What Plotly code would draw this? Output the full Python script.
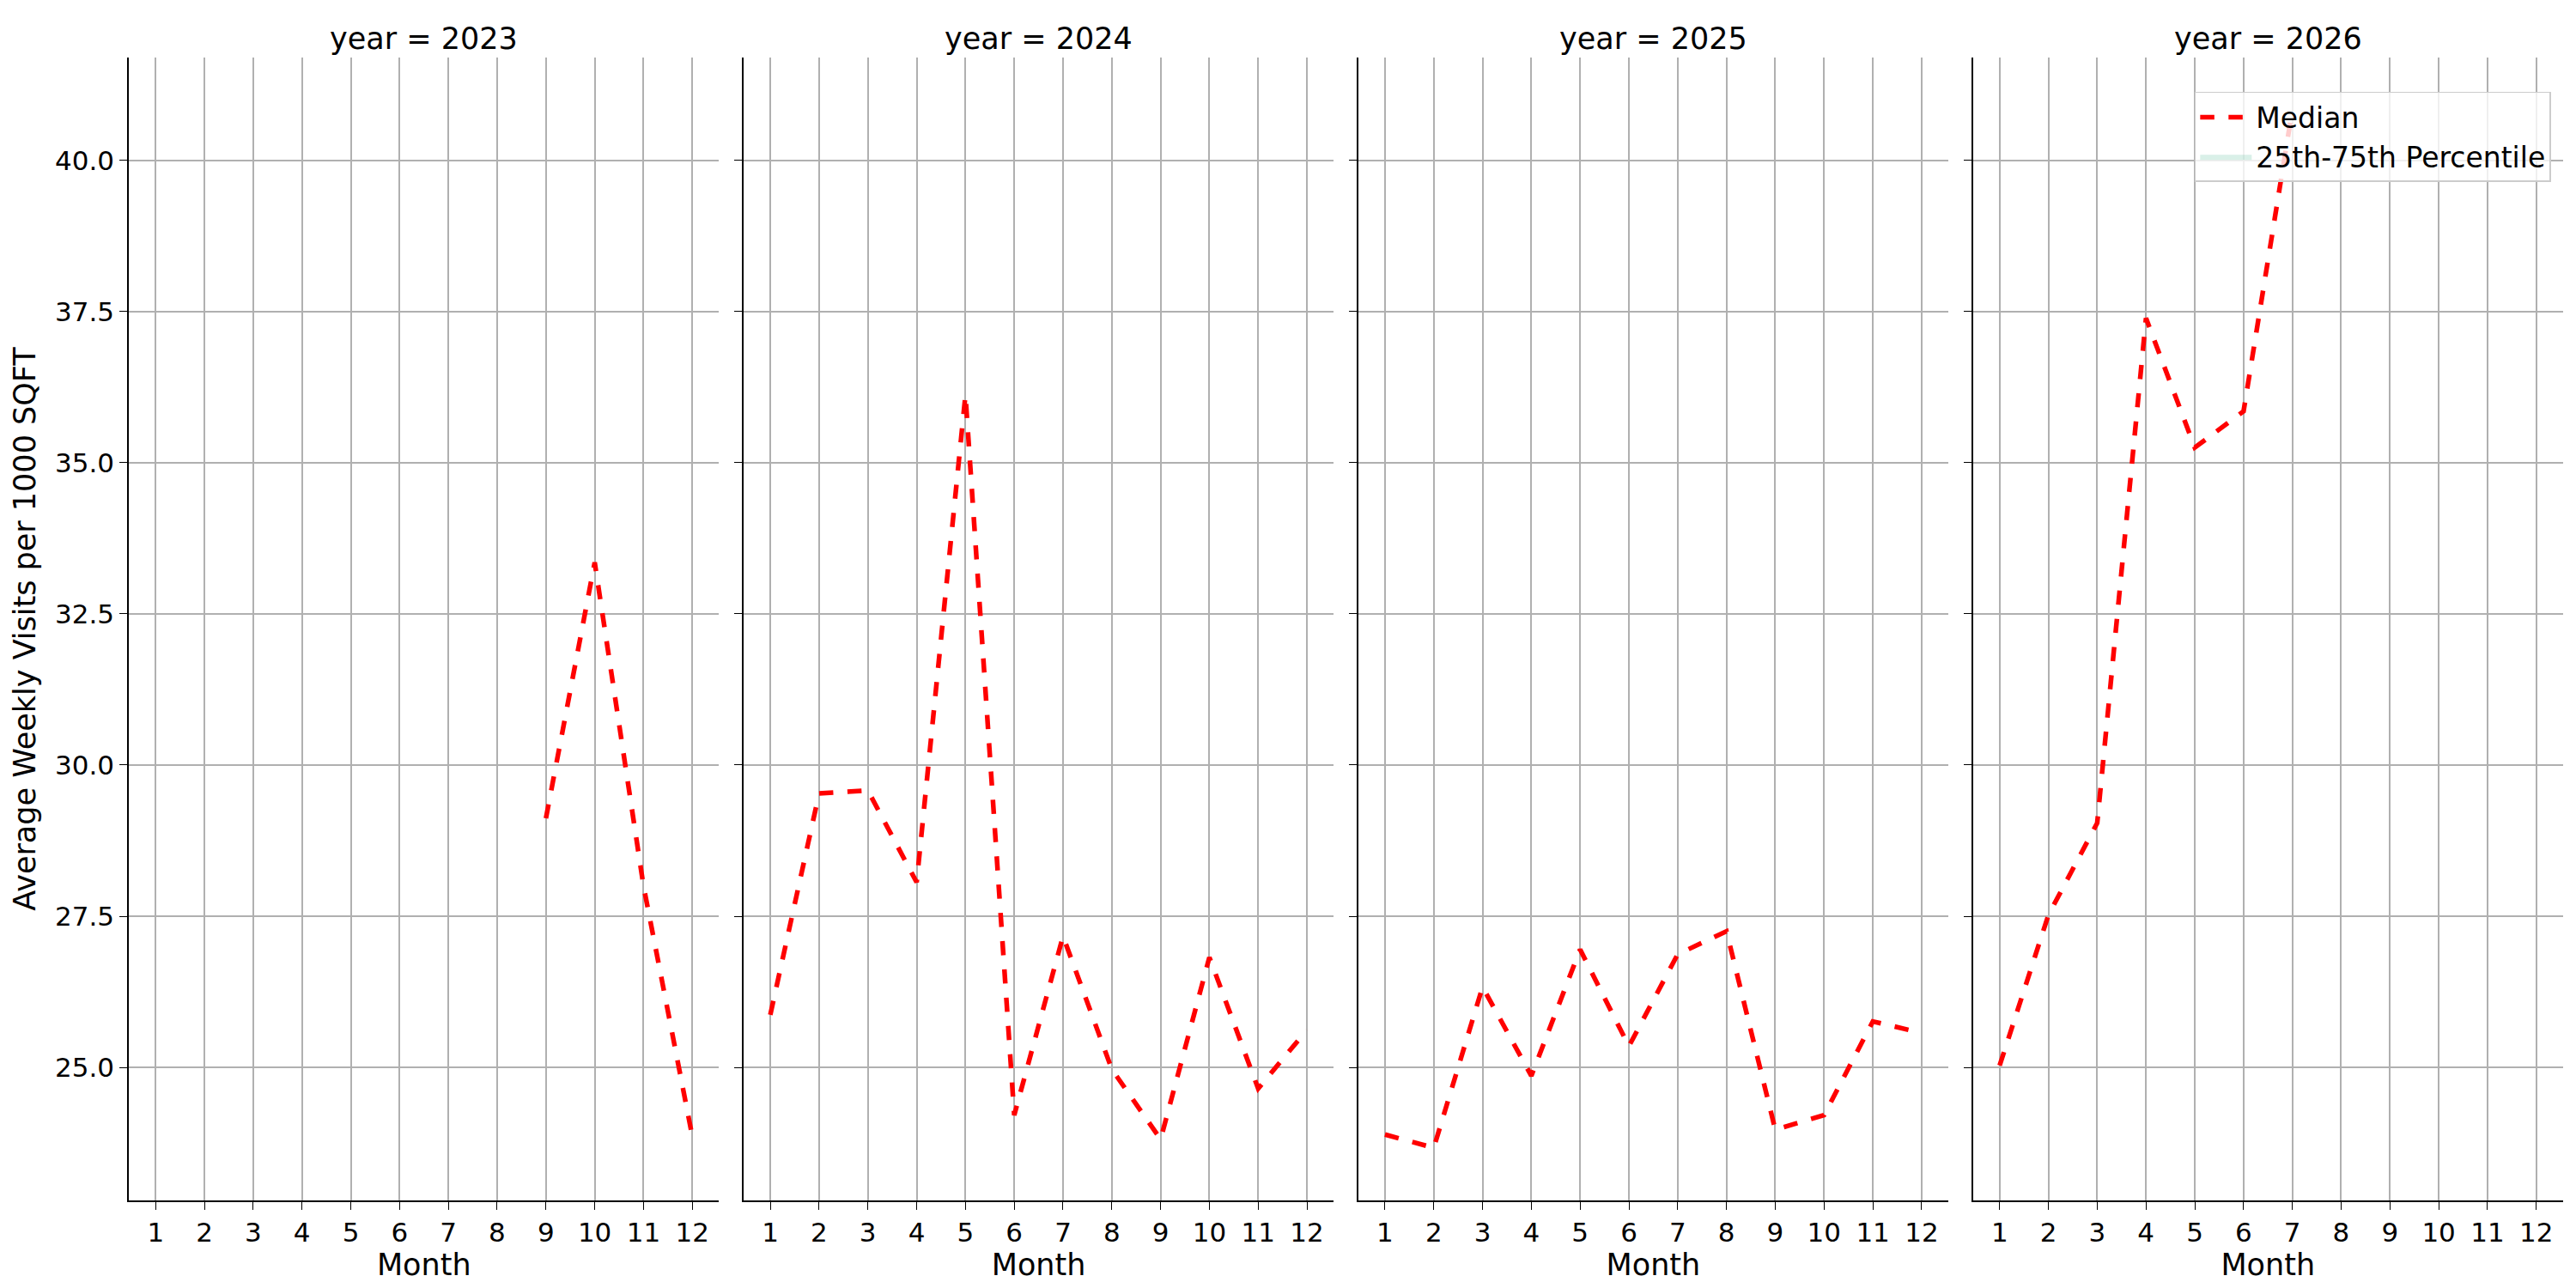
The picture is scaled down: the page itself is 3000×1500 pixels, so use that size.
import plotly.graph_objects as go
from plotly.subplots import make_subplots

years = [2023, 2024, 2025, 2026]
months = {
    2023: [9, 10, 11, 12],
    2024: list(range(1, 13)),
    2025: list(range(1, 13)),
    2026: [1, 2, 3, 4, 5, 6, 7],
}
median = {
    2023: [29.12, 33.35, 28.0, 23.86],
    2024: [25.87, 29.53, 29.58, 28.06, 36.12, 24.21, 27.17, 24.97, 23.81, 26.82, 24.65, 25.62],
    2025: [23.89, 23.67, 26.33, 24.86, 26.95, 25.35, 26.87, 27.25, 23.97, 24.21, 25.76, 25.57],
    2026: [25.03, 27.52, 29.04, 37.39, 35.25, 35.85, 40.84],
}
yticks = [25.0, 27.5, 30.0, 32.5, 35.0, 37.5, 40.0]

fig = make_subplots(rows=1, cols=4, shared_yaxes=True, horizontal_spacing=0.01,
                    subplot_titles=[f"year = {y}" for y in years])
for i, y in enumerate(years):
    fig.add_trace(go.Scatter(x=months[y], y=median[y], mode="lines",
                             line=dict(color="red", width=5.5, dash="dash"),
                             name="Median", showlegend=(i == 3)), row=1, col=i + 1)
fig.add_trace(go.Scatter(x=[None], y=[None], mode="lines", fill="toself",
                         fillcolor="rgba(102,194,165,0.25)", line=dict(width=0),
                         name="25th-75th Percentile"), row=1, col=4)

font = dict(family="DejaVu Sans", size=31, color="black")
tfont = dict(family="DejaVu Sans", size=35, color="black")
for i in range(4):
    fig.update_xaxes(row=1, col=i + 1, range=[0.45, 12.55], tickvals=list(range(1, 13)),
                     showgrid=True, gridcolor="#b0b0b0", gridwidth=1.5,
                     showline=True, linecolor="black", linewidth=1.5,
                     ticks="outside", ticklen=9, tickcolor="black",
                     title=dict(text="Month", font=tfont, standoff=8),
                     tickfont=font, zeroline=False)
    fig.update_yaxes(row=1, col=i + 1, range=[22.8, 41.7], tickvals=yticks,
                     ticktext=[f"{v:.1f}" for v in yticks],
                     showgrid=True, gridcolor="#b0b0b0", gridwidth=1.5,
                     showline=True, linecolor="black", linewidth=1.5,
                     ticks="outside", ticklen=9, tickcolor="black",
                     showticklabels=(i == 0), tickfont=font, zeroline=False)
fig.update_yaxes(row=1, col=1, title=dict(text="Average Weekly Visits per 1000 SQFT",
                                          font=tfont, standoff=12))
for a in fig.layout.annotations:
    a.font = tfont

fig.update_layout(width=3000, height=1500, plot_bgcolor="white", paper_bgcolor="white",
                  margin=dict(l=142, r=23, t=59, b=110),
                  legend=dict(x=0.995, y=0.97, xanchor="right", yanchor="top",
                              font=dict(family="DejaVu Sans", size=33, color="black"),
                              bgcolor="rgba(255,255,255,0.8)", bordercolor="#cccccc",
                              borderwidth=1.5, itemwidth=60))
fig.write_html("out.html")
